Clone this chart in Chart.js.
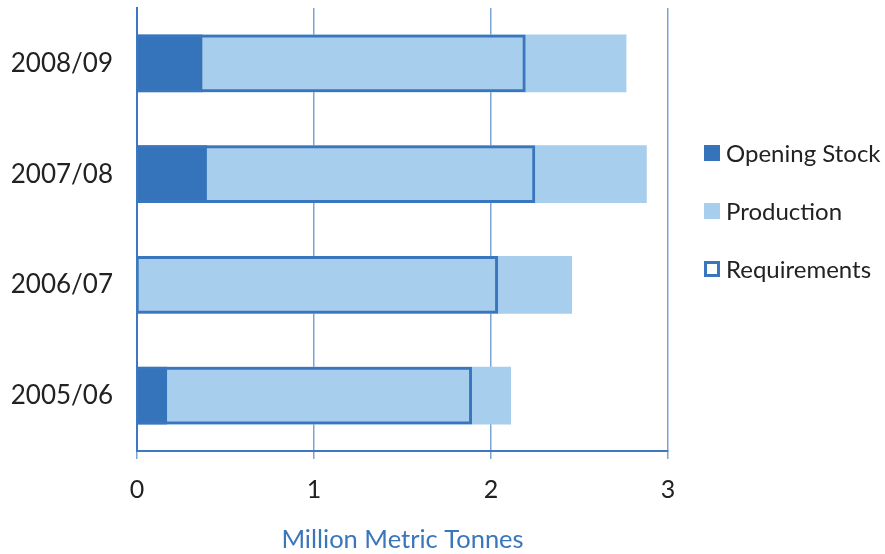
<!DOCTYPE html>
<html>
<head>
<meta charset="utf-8">
<script src="https://cdn.jsdelivr.net/npm/chart.js@4"></script>
<style>
  html, body { margin: 0; padding: 0; background: #ffffff; }
  #wrap { width: 885px; height: 554px; }
</style>
</head>
<body>
<div id="wrap"><canvas id="c" width="885" height="554"></canvas></div>
<script>
// Marketing years, top to bottom
const seasons = ['2008/09', '2007/08', '2006/07', '2005/06'];
// Million metric tonnes
const openingStock = [0.37, 0.395, 0.01, 0.17];
const production   = [2.395, 2.485, 2.448, 1.943];
const requirements = [2.196, 2.25, 2.04, 1.893];
// Value axis ticks
const xTicks = [0, 1, 2, 3];
const axisTitle = 'Million Metric Tonnes';

const FONT = 'Lato, "Open Sans", sans-serif';
const DARK = '#3574BA';
const LIGHT = '#A8CEED';
const EDGE = '#3A76BE';

// Legend drawn at the right of the plot, one row per dataset
const sideLegend = {
  id: 'sideLegend',
  afterDraw(chart) {
    const ctx = chart.ctx;
    const x0 = 704, y0 = 153, step = 58, box = 16;
    ctx.save();
    ctx.font = '24px ' + FONT;
    ctx.textBaseline = 'middle';
    ctx.textAlign = 'left';
    chart.data.datasets.forEach((ds, i) => {
      const y = y0 + i * step;
      if (ds.backgroundColor === 'transparent') {
        ctx.fillStyle = '#ffffff';
        ctx.fillRect(x0, y - box / 2, box, box);
        ctx.strokeStyle = ds.borderColor;
        ctx.lineWidth = 3;
        ctx.strokeRect(x0 + 1.5, y - box / 2 + 1.5, box - 3, box - 3);
      } else {
        ctx.fillStyle = ds.backgroundColor;
        ctx.fillRect(x0, y - box / 2, box, box);
      }
      ctx.fillStyle = '#222222';
      ctx.fillText(ds.label, x0 + 22, y + 1);
    });
    ctx.restore();
  }
};

new Chart(document.getElementById('c'), {
  type: 'bar',
  data: {
    labels: seasons,
    datasets: [
      { label: 'Opening Stock', data: openingStock, backgroundColor: DARK,
        stack: 'supply', order: 1, borderWidth: 0 },
      { label: 'Production', data: production, backgroundColor: LIGHT,
        stack: 'supply', order: 1, borderWidth: 0 },
      { label: 'Requirements', data: requirements, backgroundColor: 'transparent',
        borderColor: EDGE, borderWidth: 3, stack: 'demand', order: 0 }
    ]
  },
  options: {
    indexAxis: 'y',
    responsive: false,
    animation: false,
    datasets: {
      bar: { grouped: false, barPercentage: 0.52, categoryPercentage: 1 }
    },
    layout: { padding: { top: 8, right: 217, left: 0, bottom: 0 } },
    plugins: { legend: { display: false }, tooltip: { enabled: false } },
    scales: {
      x: {
        stacked: true,
        min: 0, max: 3,
        afterBuildTicks(scale) { scale.ticks = xTicks.map(v => ({ value: v })); },
        afterFit(scale) { scale.height = 103; },
        grid: { color: '#7EA4D6', lineWidth: 1.5, tickLength: 8, drawTicks: true },
        border: { display: true, color: '#3E78C0', width: 2 },
        ticks: { color: '#222222', font: { family: FONT, size: 25 }, padding: 16 },
        title: { display: true, text: axisTitle, color: '#3A76BB',
                 font: { family: FONT, size: 25.5, lineHeight: 1.1 },
                 padding: { top: 0, bottom: 0 } }
      },
      y: {
        stacked: true,
        afterFit(scale) { scale.width = 137; },
        grid: { display: false, drawTicks: true, tickLength: 24 },
        border: { display: true, color: '#3E78C0', width: 2 },
        ticks: { color: '#222222', font: { family: FONT, size: 26, lineHeight: 0.5 }, padding: 0 }
      }
    }
  },
  plugins: [sideLegend]
});
</script>
</body>
</html>
